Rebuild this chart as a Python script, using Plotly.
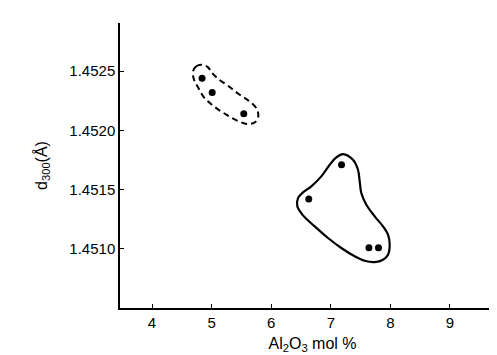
import plotly.graph_objects as go

# Data points
group_a_x = [4.84, 5.01, 5.54]
group_a_y = [1.45244, 1.45232, 1.45214]
group_b_x = [7.18, 6.63, 7.64, 7.80]
group_b_y = [1.45171, 1.45142, 1.45101, 1.45101]

# Hand-drawn enclosing curves (data units)
loop_a_x = [4.688, 4.743, 4.839, 4.940, 4.995, 5.107, 5.275, 5.455, 5.622, 5.750,
            5.784, 5.733, 5.611, 5.455, 5.247, 5.040, 4.872, 4.772, 4.705, 4.688]
loop_a_y = [1.452497, 1.452540, 1.452553, 1.452531, 1.452492, 1.452435, 1.452376,
            1.452306, 1.452250, 1.452188, 1.452118, 1.452070, 1.452053, 1.452076,
            1.452132, 1.452202, 1.452278, 1.452363, 1.452427, 1.452497]
loop_b_x = [7.205, 7.372, 7.456, 7.485, 7.512, 7.596, 7.737, 7.876, 7.960, 7.988,
            7.960, 7.876, 7.737, 7.569, 7.401, 7.176, 6.953, 6.730, 6.534, 6.438,
            6.450, 6.534, 6.673, 6.841, 6.982, 7.092, 7.205]
loop_b_y = [1.451800, 1.451752, 1.451668, 1.451570, 1.451471, 1.451373, 1.451275,
            1.451190, 1.451120, 1.451035, 1.450951, 1.450909, 1.450889, 1.450900,
            1.450938, 1.451008, 1.451092, 1.451190, 1.451283, 1.451359, 1.451429,
            1.451477, 1.451528, 1.451612, 1.451710, 1.451772, 1.451800]

x_ticks = [4, 5, 6, 7, 8, 9]
y_ticks = [1.4510, 1.4515, 1.4520, 1.4525]
y_tick_labels = ["1.4510", "1.4515", "1.4520", "1.4525"]

FONT = "Liberation Sans, Arial, sans-serif"

fig = go.Figure()
fig.add_trace(go.Scatter(x=loop_a_x, y=loop_a_y, mode="lines", line_shape="spline",
                         line=dict(color="black", width=2, dash="6px,4px"),
                         hoverinfo="skip", showlegend=False))
fig.add_trace(go.Scatter(x=loop_b_x, y=loop_b_y, mode="lines", line_shape="spline",
                         line=dict(color="black", width=2.2),
                         hoverinfo="skip", showlegend=False))
fig.add_trace(go.Scatter(x=group_a_x, y=group_a_y, mode="markers",
                         marker=dict(color="black", size=7), showlegend=False))
fig.add_trace(go.Scatter(x=group_b_x, y=group_b_y, mode="markers",
                         marker=dict(color="black", size=7), showlegend=False))

fig.update_layout(
    width=497, height=355,
    margin=dict(l=112, r=0, t=15, b=55),
    paper_bgcolor="white", plot_bgcolor="white",
    font=dict(family=FONT, size=15, color="black"),
    showlegend=False,
)
fig.update_xaxes(
    range=[3.463, 9.923], tickvals=x_ticks, ticks="inside", ticklen=4,
    tickwidth=1, tickcolor="black", showline=True, linecolor="black",
    linewidth=1.5, showgrid=False, zeroline=False,
    title=dict(text="Al<sub>2</sub>O<sub>3</sub> mol %", font=dict(size=16),
               standoff=8),
)
fig.update_yaxes(
    range=[1.450502, 1.452905], tickvals=y_ticks, ticktext=y_tick_labels,
    ticks="inside", ticklen=4, tickwidth=1, tickcolor="black", showline=True,
    linecolor="black", linewidth=1.5, showgrid=False, zeroline=False,
    title=dict(text="d<sub>300</sub>(Å)", font=dict(size=16), standoff=18),
)

fig.write_html("out.html")
